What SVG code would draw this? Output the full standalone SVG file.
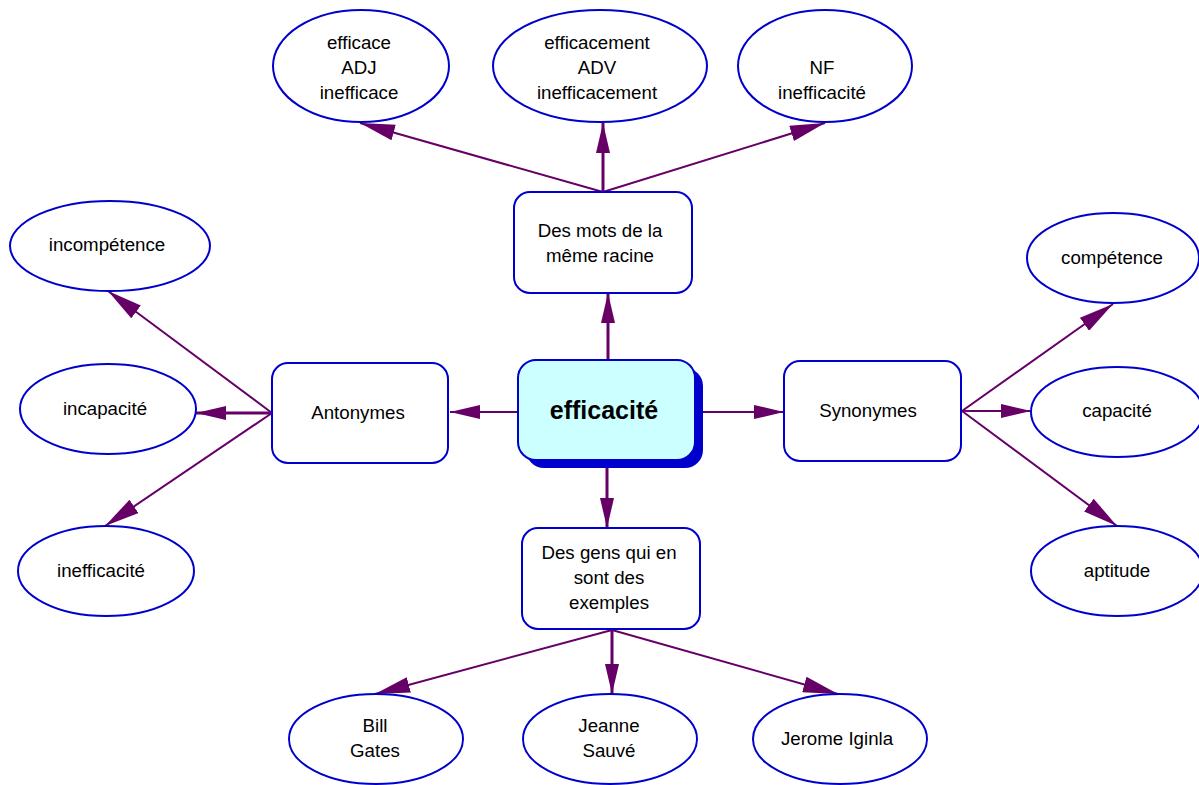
<svg xmlns="http://www.w3.org/2000/svg" width="1199" height="785" viewBox="0 0 1199 785">
<style>
.ell{fill:#ffffff;stroke:#0000cc;stroke-width:2}
.box{fill:#ffffff;stroke:#0000cc;stroke-width:2}
.t{font-family:"Liberation Sans",Arial,sans-serif;font-size:18.7px;fill:#000000;text-anchor:middle}
.tb{font-family:"Liberation Sans",Arial,sans-serif;font-size:25px;font-weight:bold;fill:#000000;text-anchor:middle}
.c{stroke:#660066;fill:none;stroke-width:2}
.c3{stroke:#660066;fill:none;stroke-width:3}
.s{marker-end:url(#ah)}
.d{marker-end:url(#ahd)}
</style>
<defs>
<marker id="ah" markerUnits="userSpaceOnUse" markerWidth="30" markerHeight="14" refX="30" refY="7" orient="auto" viewBox="0 0 30 14">
<path d="M0,0 L30,7 L0,14 Z" fill="#660066"/>
</marker>
<marker id="ahd" markerUnits="userSpaceOnUse" markerWidth="35" markerHeight="16" refX="35" refY="8" orient="auto" viewBox="0 0 35 16">
<path d="M0,0 L35,8 L0,16 Z" fill="#660066"/>
</marker>
</defs>
<rect width="1199" height="785" fill="#ffffff"/>
<g id="connectors">
<line class="c3 s" x1="608" y1="360" x2="608" y2="293"/>
<line class="c s" x1="518" y1="412" x2="450" y2="412"/>
<line class="c s" x1="703" y1="412" x2="784" y2="412"/>
<line class="c3 s" x1="607" y1="468" x2="607" y2="528"/>
<line class="c d" x1="603" y1="192" x2="360" y2="123"/>
<line class="c3 s" x1="603" y1="192" x2="603" y2="123"/>
<line class="c d" x1="603" y1="192" x2="825" y2="123"/>
<line class="c d" x1="272" y1="413" x2="108" y2="291"/>
<line class="c3 s" x1="272" y1="413" x2="196" y2="413"/>
<line class="c d" x1="272" y1="413" x2="105" y2="526"/>
<line class="c d" x1="962" y1="411" x2="1113" y2="304"/>
<line class="c s" x1="962" y1="411" x2="1031" y2="411"/>
<line class="c d" x1="962" y1="411" x2="1117" y2="526"/>
<line class="c d" x1="612" y1="630" x2="375" y2="694"/>
<line class="c3 s" x1="612" y1="630" x2="612" y2="694"/>
<line class="c d" x1="612" y1="630" x2="838" y2="694"/>
</g>
<g id="n-efficacite">
<rect x="526" y="368" width="177" height="100" rx="18" fill="#0000cc"/>
<rect x="518" y="360" width="177" height="100" rx="18" fill="#ccffff" stroke="#0000cc" stroke-width="2"/>
<text class="tb" x="604" y="419">efficacité</text>
</g>
<g id="n-racine">
<rect class="box" x="514" y="192" width="178" height="101" rx="16"/>
<text class="t" x="600" y="237">Des mots de la</text>
<text class="t" x="600" y="262">même racine</text>
</g>
<g id="n-antonymes">
<rect class="box" x="272" y="363" width="176" height="100" rx="16"/>
<text class="t" x="358" y="419">Antonymes</text>
</g>
<g id="n-synonymes">
<rect class="box" x="784" y="361" width="177" height="100" rx="16"/>
<text class="t" x="868" y="417">Synonymes</text>
</g>
<g id="n-gens">
<rect class="box" x="522" y="528" width="178" height="101" rx="16"/>
<text class="t" x="609" y="559">Des gens qui en</text>
<text class="t" x="609" y="584">sont des</text>
<text class="t" x="609" y="609">exemples</text>
</g>
<g id="n-efficace">
<ellipse class="ell" cx="361" cy="66" rx="88" ry="56"/>
<text class="t" x="359" y="48.5">efficace</text>
<text class="t" x="359" y="73.5">ADJ</text>
<text class="t" x="359" y="98.5">inefficace</text>
</g>
<g id="n-efficacement">
<ellipse class="ell" cx="600" cy="66" rx="107" ry="56"/>
<text class="t" x="597" y="48.5">efficacement</text>
<text class="t" x="597" y="73.5">ADV</text>
<text class="t" x="597" y="98.5">inefficacement</text>
</g>
<g id="n-nf">
<ellipse class="ell" cx="825" cy="66" rx="87" ry="56"/>
<text class="t" x="822" y="73.5">NF</text>
<text class="t" x="822" y="98.5">inefficacité</text>
</g>
<g id="n-incompetence">
<ellipse class="ell" cx="110" cy="246" rx="100" ry="45"/>
<text class="t" x="107" y="251">incompétence</text>
</g>
<g id="n-incapacite">
<ellipse class="ell" cx="108" cy="409" rx="88" ry="45"/>
<text class="t" x="105" y="415">incapacité</text>
</g>
<g id="n-inefficacite">
<ellipse class="ell" cx="106" cy="571" rx="88" ry="45"/>
<text class="t" x="101" y="577">inefficacité</text>
</g>
<g id="n-competence">
<ellipse class="ell" cx="1113" cy="258" rx="86" ry="45"/>
<text class="t" x="1112" y="264">compétence</text>
</g>
<g id="n-capacite">
<ellipse class="ell" cx="1117" cy="412" rx="86" ry="45"/>
<text class="t" x="1117" y="417">capacité</text>
</g>
<g id="n-aptitude">
<ellipse class="ell" cx="1117" cy="571" rx="86" ry="45"/>
<text class="t" x="1117" y="577">aptitude</text>
</g>
<g id="n-bill">
<ellipse class="ell" cx="376" cy="739" rx="87" ry="45"/>
<text class="t" x="375" y="732">Bill</text>
<text class="t" x="375" y="757">Gates</text>
</g>
<g id="n-jeanne">
<ellipse class="ell" cx="610" cy="739" rx="87" ry="45"/>
<text class="t" x="609" y="732">Jeanne</text>
<text class="t" x="609" y="757">Sauvé</text>
</g>
<g id="n-jerome">
<ellipse class="ell" cx="840" cy="739" rx="87" ry="45"/>
<text class="t" x="837" y="745">Jerome Iginla</text>
</g>
</svg>
